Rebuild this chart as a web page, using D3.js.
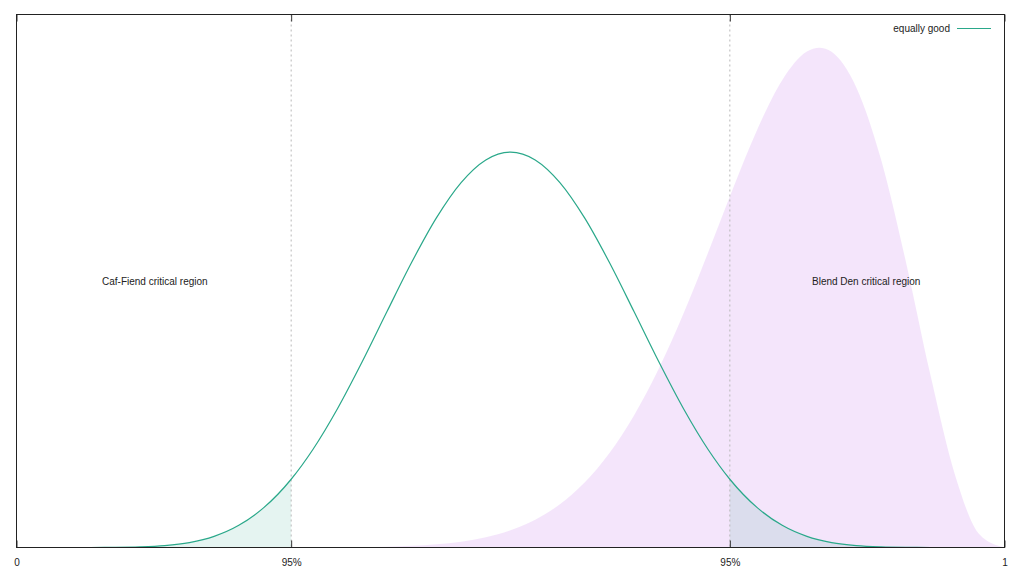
<!DOCTYPE html>
<html>
<head>
<meta charset="utf-8">
<script src="https://cdn.jsdelivr.net/npm/d3@7"></script>
<style>
  html, body { margin: 0; padding: 0; background: #fff; }
  svg { display: block; font-family: "Liberation Sans", Arial, sans-serif; }
</style>
</head>
<body>
<svg id="chart" width="1024" height="576"></svg>
<script>
// ---- data ----
const greenX = [0, 0.025, 0.05, 0.075, 0.1, 0.125, 0.15, 0.175, 0.2, 0.225, 0.25, 0.278, 0.3, 0.325, 0.35, 0.375, 0.4, 0.425, 0.45, 0.475, 0.5,
                0.525, 0.55, 0.575, 0.6, 0.625, 0.65, 0.675, 0.7, 0.722, 0.75, 0.775, 0.8, 0.825, 0.85, 0.875, 0.9, 0.925, 0.95, 0.975, 1];
const greenY = [0, 0, 0.00001, 0.0001, 0.0009, 0.0045, 0.0153, 0.0413, 0.0939, 0.1871, 0.3342, 0.5762, 0.8275, 1.1736, 1.5698, 1.992, 2.408, 2.7826, 3.0808, 3.2724, 3.3385,
                3.2724, 3.0808, 2.7826, 2.408, 1.992, 1.5698, 1.1736, 0.8275, 0.5762, 0.3342, 0.1871, 0.0939, 0.0413, 0.0153, 0.0045, 0.0009, 0.0001, 0.00001, 0, 0];
const purpleX = [0, 0.1, 0.2, 0.25, 0.3, 0.325, 0.35, 0.375, 0.4, 0.425, 0.45, 0.475, 0.5, 0.525, 0.55, 0.575, 0.6, 0.625, 0.65, 0.675, 0.7,
                 0.725, 0.75, 0.775, 0.8, 0.8125, 0.825, 0.85, 0.875, 0.9, 0.925, 0.95, 0.975, 1];
const purpleY = [0, 0, 0.00001, 0.00006, 0.0005, 0.0013, 0.0031, 0.0067, 0.0138, 0.0267, 0.0491, 0.0864, 0.1453, 0.2348, 0.3656, 0.5489, 0.7958, 1.1149, 1.5091, 1.9736, 2.4903,
                 3.0272, 3.5337, 3.9454, 4.1866, 4.2202, 4.1846, 3.8847, 3.277, 2.4198, 1.4576, 0.611, 0.107, 0];
const criticalLow = 0.278;
const criticalHigh = 0.722;
const tickValues = [0, criticalLow, criticalHigh, 1];
const tickLabels = ["0", "95%", "95%", "1"];
const regionLabels = ["Caf-Fiend critical region", "Blend Den critical region"];
const regionLabelX = [0.14, 0.86];
const regionLabelY = 2.25;
const legendLabel = "equally good";
const yMax = 4.5;

// ---- layout ----
const svg = d3.select("#chart");
const L = 16.5, R = 1004.5, T = 14.5, B = 547.5;
const x = d3.scaleLinear().domain([0, 1]).range([L, R]);
const y = d3.scaleLinear().domain([0, yMax]).range([B, T]);

const green = "#2aa88a";
const greenPts = greenX.map((v, i) => [v, greenY[i]]);
const purplePts = purpleX.map((v, i) => [v, purpleY[i]]);

const area = d3.area().x(d => x(d[0])).y0(y(0)).y1(d => y(d[1])).curve(d3.curveMonotoneX);
const line = d3.line().x(d => x(d[0])).y(d => y(d[1])).curve(d3.curveMonotoneX);

// purple filled distribution
svg.append("path").datum(purplePts).attr("d", area)
  .attr("fill", "rgb(148,0,211)").attr("fill-opacity", 0.1);

// green critical tails
svg.append("path").datum(greenPts.filter(d => d[0] <= criticalLow)).attr("d", area)
  .attr("fill", green).attr("fill-opacity", 0.12);
svg.append("path").datum(greenPts.filter(d => d[0] >= criticalHigh)).attr("d", area)
  .attr("fill", green).attr("fill-opacity", 0.12);

// dotted critical lines
svg.selectAll("line.crit").data([criticalLow, criticalHigh]).enter().append("line")
  .attr("class", "crit")
  .attr("x1", d => x(d)).attr("x2", d => x(d))
  .attr("y1", T).attr("y2", B)
  .attr("stroke", "#b8b8b8").attr("stroke-width", 1).attr("stroke-dasharray", "2,3");

// green curve
svg.append("path").datum(greenPts).attr("d", line)
  .attr("fill", "none").attr("stroke", green).attr("stroke-width", 1.2);

// axes
const xAxisB = d3.axisBottom(x).tickValues(tickValues)
  .tickFormat((d, i) => tickLabels[i]).tickSizeInner(-7).tickSizeOuter(0).tickPadding(11);
const gB = svg.append("g").attr("transform", `translate(0,${B})`).call(xAxisB);
gB.select(".domain").remove();
gB.selectAll("text").attr("font-size", 10).attr("fill", "#222")
  .attr("font-family", "'Liberation Sans', Arial, sans-serif");
gB.selectAll("line").attr("stroke", "#333");

const xAxisT = d3.axisTop(x).tickValues(tickValues)
  .tickFormat("").tickSizeInner(-7).tickSizeOuter(0);
const gT = svg.append("g").attr("transform", `translate(0,${T})`).call(xAxisT);
gT.select(".domain").remove();
gT.selectAll("line").attr("stroke", "#333");

// frame
svg.append("rect").attr("x", L).attr("y", T).attr("width", R - L).attr("height", B - T)
  .attr("fill", "none").attr("stroke", "#222").attr("stroke-width", 1);

// region labels
svg.selectAll("text.region").data(regionLabels).enter().append("text")
  .attr("class", "region")
  .attr("x", (d, i) => x(regionLabelX[i])).attr("y", y(regionLabelY))
  .attr("dy", "0.35em").attr("text-anchor", "middle")
  .attr("font-size", 10).attr("fill", "#222")
  .text(d => d);

// legend
svg.append("text").attr("x", 950).attr("y", 28).attr("dy", "0.35em")
  .attr("text-anchor", "end").attr("font-size", 10).attr("fill", "#222")
  .text(legendLabel);
svg.append("line").attr("x1", 957).attr("x2", 991).attr("y1", 28.5).attr("y2", 28.5)
  .attr("stroke", green).attr("stroke-width", 1.2);
</script>
</body>
</html>
